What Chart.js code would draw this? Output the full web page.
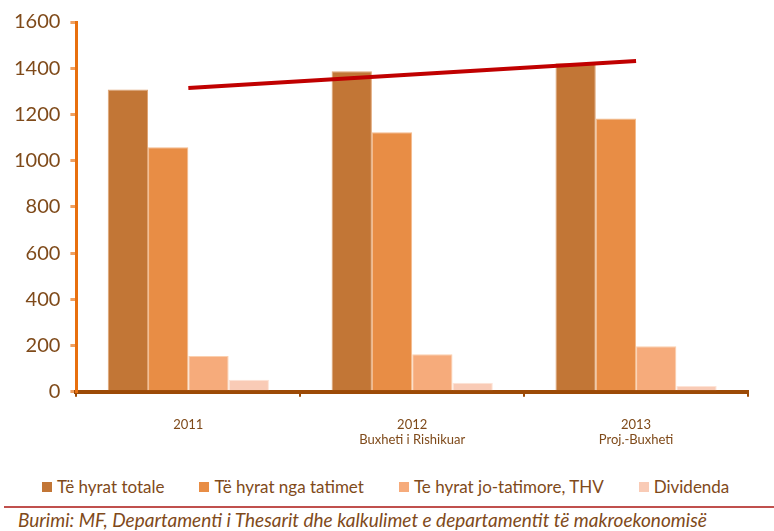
<!DOCTYPE html>
<html>
<head>
<meta charset="utf-8">
<script src="https://cdn.jsdelivr.net/npm/chart.js@4"></script>
<style>
  body { margin: 0; background: #fff; }
  #wrap { position: relative; width: 774px; height: 531px; }
  #legend {
    position: absolute; left: 42px; top: 476px; display: flex; align-items: center;
    font-family: Lato, sans-serif; font-size: 17px; color: #7f4a1a; white-space: nowrap;
  }
  .item { display: flex; align-items: center; margin-right: 35px; }
  .box { width: 10px; height: 10px; margin-right: 5px; }
  #source {
    position: absolute; left: 4px; top: 506px; width: 770px;
    border-top: 2px solid #c0504d;
    font-family: Lato, sans-serif; font-style: italic; font-size: 19px;
    color: #7f4a1a; padding: 0 0 0 14px; box-sizing: border-box; white-space: nowrap;
  }
</style>
</head>
<body>
<div id="wrap">
  <canvas id="chart" width="774" height="468"></canvas>
  <div id="legend"></div>
  <div id="source">Burimi: MF, Departamenti i Thesarit dhe kalkulimet e departamentit të makroekonomisë</div>
</div>
<script>
// categories (multi-line tick labels)
const years = [["2011"], ["2012", "Buxheti i Rishikuar"], ["2013", "Proj.-Buxheti"]];

// series values
const totalRev = [1308, 1387, 1422];
const taxRev = [1058, 1123, 1182];
const nonTaxRev = [155, 163, 197];
const dividends = [52, 39, 25];
const trend = [1314, 1373, 1431];

const yTicks = [0, 200, 400, 600, 800, 1000, 1200, 1400, 1600];

const brown = '#7f4a1a';

function barSet(label, data, fill, edge) {
	return {
		label: label,
		data: data,
		backgroundColor: fill,
		borderColor: edge,
		borderWidth: 1,
		categoryPercentage: 0.72,
		barPercentage: 1.0,
		order: 1
	};
}

const ctx = document.getElementById('chart');

const chart = new Chart(ctx, {
	type: 'bar',
	data: {
		labels: years,
		datasets: [
			barSet('Të hyrat totale', totalRev, '#c27636', '#dfa474'),
			barSet('Të hyrat nga tatimet', taxRev, '#e88d45', '#f4bb8c'),
			barSet('Te hyrat jo-tatimore, THV', nonTaxRev, '#f6ab7b', '#fbcfae'),
			barSet('Dividenda', dividends, '#f9cbb6', '#fde3d6'),
			{
				type: 'line',
				label: 'trend',
				data: trend,
				borderColor: '#c00000',
				borderWidth: 4,
				pointRadius: 0,
				fill: false,
				order: 0
			}
		]
	},
	options: {
		responsive: false,
		animation: false,
		layout: { padding: { left: 4, right: 26, top: 10, bottom: 0 } },
		plugins: {
			tooltip: { enabled: false },
			legend: { display: false }
		},
		scales: {
			x: {
				border: { display: true, color: '#9c4a06', width: 4 },
				grid: { display: true, drawOnChartArea: false, drawTicks: true, tickLength: 5, color: '#9c4a06', lineWidth: 2 },
				ticks: { color: brown, padding: 20, font: { family: 'Lato', size: 13 } }
			},
			y: {
				min: 0,
				max: 1600,
				afterBuildTicks: (axis) => { axis.ticks = yTicks.map(v => ({ value: v })); },
				border: { display: true, color: '#e8700f', width: 3 },
				grid: { display: true, drawOnChartArea: false, drawTicks: true, tickLength: 6, color: '#f0a060', lineWidth: 3 },
				ticks: { color: brown, padding: 10, font: { family: 'Lato', size: 20 }, callback: (v) => String(v) }
			}
		}
	}
});

// html legend for the bar series
const legend = document.getElementById('legend');
chart.data.datasets.filter(d => d.type !== 'line').forEach(d => {
	const item = document.createElement('div');
	item.className = 'item';
	const box = document.createElement('span');
	box.className = 'box';
	box.style.background = d.backgroundColor;
	item.appendChild(box);
	item.appendChild(document.createTextNode(d.label));
	legend.appendChild(item);
});
</script>
</body>
</html>
